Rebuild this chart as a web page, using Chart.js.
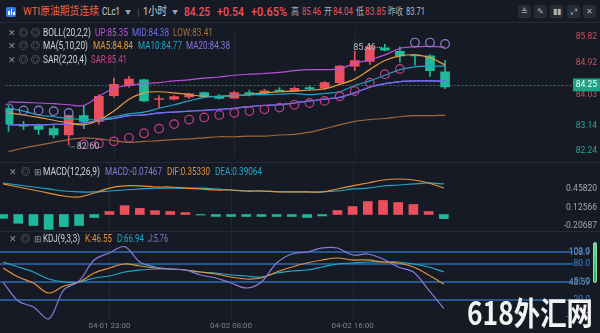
<!DOCTYPE html>
<html><head><meta charset="utf-8">
<script src="https://cdn.jsdelivr.net/npm/chart.js@4.4.1/dist/chart.umd.min.js"></script>
<style>
html,body{margin:0;padding:0;background:#161a25;}
body{width:600px;height:333px;position:relative;overflow:hidden;font-family:Roboto,"Noto Sans CJK SC",sans-serif;}
.t{position:absolute;white-space:nowrap;line-height:1;transform:translateY(-50%);transform-origin:left center;}
canvas{position:absolute;left:0;}
.hl{position:absolute;left:0;width:600px;height:1px;background:#262b37;}
.lg{font-size:10px;}
.ic{color:#8e939d;font-size:9px;}
.btn{position:absolute;top:5px;width:13px;height:13px;background:#262b36;border-radius:2px;color:#aeb3bd;font-size:8px;line-height:13px;text-align:center;}
</style></head><body>
<div class="hl" style="top:22px"></div>
<div class="hl" style="top:162px"></div>
<div class="hl" style="top:231px"></div>
<canvas id="cMain" width="600" height="140" style="top:23px"></canvas>
<canvas id="cMacd" width="600" height="68" style="top:163px"></canvas>
<canvas id="cKdj" width="600" height="101" style="top:232px"></canvas>

<!-- header -->
<div style="position:absolute;left:6px;top:7px;width:10px;height:10px;background:#2f7ae5;border-radius:2px;"></div>
<div style="position:absolute;left:8px;top:11px;width:1.5px;height:4px;background:#fff;"></div>
<div style="position:absolute;left:10.5px;top:9px;width:1.5px;height:6px;background:#fff;"></div>
<div style="position:absolute;left:13px;top:12px;width:1.5px;height:3px;background:#fff;"></div>
<div class="t" data-w="76" style="left:23px;top:12px;color:#ef633d;font-size:11.5px;">WTI原油期货连续</div>
<div class="t" data-w="18" style="left:102px;top:12px;color:#cfd3da;font-size:11.5px;">CLc1</div>
<div class="t" style="left:125px;top:12px;color:#9ca1ab;font-size:6px;">▼</div>
<div class="t" style="left:137px;top:12px;color:#4a4f5b;font-size:11px;">|</div>
<div class="t" data-w="24" style="left:143px;top:12px;color:#cfd3da;font-size:11.5px;">1小时</div>
<div class="t" style="left:172px;top:12px;color:#9ca1ab;font-size:6px;">▼</div>
<div class="t" data-w="26" style="left:184px;top:12px;color:#f0505a;font-size:12px;font-weight:500;">84.25</div>
<div class="t" data-w="27" style="left:217px;top:12px;color:#f0505a;font-size:12px;font-weight:500;">+0.54</div>
<div class="t" data-w="36" style="left:251px;top:12px;color:#f0505a;font-size:12px;font-weight:500;">+0.65%</div>
<div class="t" data-w="8" style="left:291px;top:12px;color:#a8adb6;font-size:10px;">高</div>
<div class="t" data-w="19" style="left:302px;top:12px;color:#e65560;font-size:10px;">85.46</div>
<div class="t" data-w="8" style="left:324px;top:12px;color:#a8adb6;font-size:10px;">开</div>
<div class="t" data-w="20" style="left:333px;top:12px;color:#e65560;font-size:10px;">84.04</div>
<div class="t" data-w="8" style="left:356px;top:12px;color:#a8adb6;font-size:10px;">低</div>
<div class="t" data-w="21" style="left:365px;top:12px;color:#e65560;font-size:10px;">83.85</div>
<div class="t" data-w="15" style="left:388px;top:12px;color:#a8adb6;font-size:10px;">昨收</div>
<div class="t" data-w="19" style="left:406px;top:12px;color:#b9bdc5;font-size:10px;">83.71</div>
<div class="btn" style="left:518px;">≙</div>
<div class="btn" style="left:534px;">✎</div>
<div class="btn" style="left:550px;">▮▮</div>
<div class="btn" style="left:567px;">⤢</div>
<div class="btn" style="left:583px;">✕</div>

<!-- main legends -->
<div class="t ic" style="left:8px;top:33px;">✕</div><div class="t ic" style="left:19px;top:33px;">◎</div><div class="t ic" style="left:31px;top:33px;">◎</div>
<div class="t lg" data-w="48" style="left:43px;top:33px;color:#cfd3da;">BOLL(20,2,2)</div>
<div class="t lg" data-w="33" style="left:95px;top:33px;color:#b952d8;">UP:85.35</div>
<div class="t lg" data-w="37" style="left:132px;top:33px;color:#6f6ef0;">MID:84.38</div>
<div class="t lg" data-w="40" style="left:173px;top:33px;color:#a3703f;">LOW:83.41</div>
<div class="t ic" style="left:8px;top:46px;">✕</div><div class="t ic" style="left:19px;top:46px;">◎</div><div class="t ic" style="left:31px;top:46px;">◎</div>
<div class="t lg" data-w="45" style="left:43px;top:46px;color:#cfd3da;">MA(5,10,20)</div>
<div class="t lg" data-w="40" style="left:93px;top:46px;color:#e39a3b;">MA5:84.84</div>
<div class="t lg" data-w="44" style="left:138px;top:46px;color:#22a5c6;">MA10:84.77</div>
<div class="t lg" data-w="44" style="left:186px;top:46px;color:#8a74e0;">MA20:84.38</div>
<div class="t ic" style="left:8px;top:60px;">✕</div><div class="t ic" style="left:19px;top:60px;">◎</div><div class="t ic" style="left:31px;top:60px;">◎</div>
<div class="t lg" data-w="44" style="left:43px;top:60px;color:#cfd3da;">SAR(2,20,4)</div>
<div class="t lg" data-w="36" style="left:91px;top:60px;color:#d0448e;">SAR:85.41</div>

<!-- macd legend -->
<div class="t ic" style="left:9px;top:172px;">✕</div><div class="t ic" style="left:21px;top:172px;">◎</div><div class="t ic" style="left:34px;top:172px;">⊞</div>
<div class="t lg" data-w="57" style="left:43px;top:172px;color:#cfd3da;">MACD(12,26,9)</div>
<div class="t lg" data-w="57" style="left:105px;top:172px;color:#8a7ad8;">MACD:-0.07467</div>
<div class="t lg" data-w="43" style="left:167px;top:172px;color:#e3923a;">DIF:0.35330</div>
<div class="t lg" data-w="47" style="left:215px;top:172px;color:#22a8c8;">DEA:0.39064</div>

<!-- kdj legend -->
<div class="t ic" style="left:9px;top:239px;">✕</div><div class="t ic" style="left:21px;top:239px;">◎</div><div class="t ic" style="left:34px;top:239px;">⊞</div>
<div class="t lg" data-w="37" style="left:43px;top:239px;color:#cfd3da;">KDJ(9,3,3)</div>
<div class="t lg" data-w="27" style="left:85px;top:239px;color:#e3923a;">K:46.55</div>
<div class="t lg" data-w="27" style="left:117px;top:239px;color:#22a8c8;">D:66.94</div>
<div class="t lg" data-w="20" style="left:148px;top:239px;color:#8a7ad8;">J:5.76</div>

<div style="position:absolute;left:593px;top:242px;width:4px;height:41px;background:linear-gradient(#5fe08a,#1fb84f);border:1px solid #9ad8b0;border-radius:2px;box-sizing:border-box;"></div>
<div class="t" data-w="126" style="left:467px;top:311px;color:#f2f2f2;font-size:32px;font-weight:700;font-family:'Noto Sans CJK SC',sans-serif;">618外汇网</div>

<script>
// ---------- data ----------
const gridIdx    = [7, 15, 23];
const gridLabels = ['04-01 23:00', '04-02 08:00', '04-02 16:00'];

const open  = [83.64,83.17,83.14,83.06,82.88,83.43,83.27,84.00,84.29,84.45,83.89,83.90,83.96,84.09,83.97,83.93,84.09,84.07,84.16,84.14,84.23,84.21,84.37,84.84,84.97,85.36,85.26,85.15,85.13,84.68];
const high  = [83.72,83.27,83.19,83.14,83.45,83.72,84.03,84.50,84.55,84.47,84.00,84.00,84.07,84.10,84.03,84.12,84.16,84.18,84.23,84.24,84.27,84.40,84.86,85.26,85.44,85.46,85.39,85.16,85.16,85.00];
const low   = [82.98,83.04,82.90,82.80,82.60,83.06,83.19,83.95,84.24,83.82,83.66,83.88,83.92,83.95,83.90,83.92,83.99,84.03,84.12,84.12,84.15,84.18,84.34,84.71,84.89,85.27,84.95,84.87,84.55,84.20];
const close = [83.19,83.13,83.04,82.88,83.43,83.27,83.98,84.32,84.47,83.85,83.91,83.97,84.05,83.96,83.92,84.09,84.05,84.14,84.12,84.21,84.20,84.37,84.84,85.00,85.39,85.29,85.13,85.13,84.71,84.25];

const bollUp  = [83.82,83.81,83.79,83.77,83.74,83.72,83.98,84.21,84.29,84.34,84.37,84.42,84.45,84.50,84.53,84.58,84.61,84.63,84.66,84.71,84.74,84.74,84.76,84.92,85.02,85.16,85.34,85.39,85.40,85.38];
const bollMid = [83.17,83.17,83.17,83.18,83.19,83.22,83.30,83.35,83.43,83.45,83.51,83.53,83.56,83.58,83.61,83.64,83.69,83.72,83.74,83.79,83.85,83.90,83.95,84.08,84.24,84.34,84.40,84.42,84.42,84.41];
const bollLow = [82.41,82.51,82.59,82.67,82.75,82.80,82.77,82.72,82.67,82.70,82.72,82.75,82.77,82.80,82.83,82.83,82.85,82.85,82.88,82.90,82.96,83.06,83.17,83.27,83.32,83.35,83.40,83.43,83.43,83.44];
const ma5     = [83.51,83.45,83.38,83.30,83.22,83.17,83.30,83.56,83.90,84.08,84.11,84.08,84.03,83.98,83.98,84.00,84.03,84.08,84.11,84.13,84.16,84.19,84.32,84.47,84.74,85.00,85.13,85.16,85.08,84.87];
const ma10    = [83.64,83.56,83.45,83.40,83.35,83.32,83.32,83.40,83.48,83.53,83.64,83.74,83.85,83.95,83.98,84.00,84.02,84.03,84.04,84.06,84.03,84.06,84.11,84.29,84.42,84.58,84.74,84.82,84.84,84.84];
const ma20    = [83.17,83.17,83.17,83.18,83.19,83.22,83.30,83.35,83.43,83.45,83.51,83.53,83.56,83.58,83.61,83.64,83.69,83.72,83.74,83.79,83.85,83.90,83.95,84.08,84.24,84.34,84.40,84.42,84.42,84.41];
const sar     = [83.64,83.58,83.58,83.56,83.51,82.62,82.64,82.70,82.80,82.93,83.06,83.19,83.32,83.38,83.45,83.51,83.56,83.61,83.66,83.74,83.79,83.85,83.98,84.13,84.37,84.61,84.76,85.51,85.51,85.47];

const macdHist = [-0.07,-0.16,-0.20,-0.27,-0.22,-0.20,-0.055,0.055,0.16,0.11,0.07,0.055,0.036,-0.01,-0.036,-0.036,-0.036,-0.036,-0.036,-0.036,-0.055,-0.027,0.073,0.145,0.236,0.255,0.218,0.182,0.055,-0.075];
const dif = [0.555,0.50,0.445,0.39,0.336,0.318,0.39,0.48,0.52,0.52,0.50,0.50,0.48,0.464,0.445,0.445,0.427,0.427,0.41,0.41,0.41,0.41,0.464,0.52,0.573,0.627,0.645,0.627,0.573,0.48];
const dea = [0.573,0.536,0.50,0.464,0.427,0.41,0.41,0.427,0.445,0.464,0.48,0.48,0.48,0.48,0.464,0.445,0.427,0.427,0.418,0.41,0.41,0.41,0.427,0.464,0.48,0.518,0.536,0.555,0.573,0.555];

const kK = [73.3,58.3,48.3,31.7,43.3,50,65,73.3,80,76.7,73.3,71.7,70,66.7,63.3,58.3,55,56.7,66.7,75,81.7,86.7,90,86.7,86.7,83.3,81.7,75,61.7,46.55];
const kD = [83.3,75,66.7,55,50,50,56.7,60,66.7,70,71.7,71.7,70,66.7,65,61.7,60,58.3,65,68.3,70,75,80,81.7,83.3,83.3,83.3,80,75,66.94];
const kJ = [50,18.3,8.3,-11.7,36.7,51.7,86.7,98.3,108.9,83.3,75,71.7,70,61.7,56.7,48.3,40,50,81.7,96.7,100,106.7,106.7,95,96.7,88.3,75,66.7,36.7,5.76];

const mainTicks  = [85.82, 84.92, 84.03, 83.14, 82.24];
const mainLabels = ['85.82','84.92','84.03','83.14','82.24'];
const prevClose  = 83.71;
const lastPrice  = 84.25;
const macdTicks  = [0.45820, 0.12566, -0.20687];
const macdLabels = ['0.45820','0.12566','-0.20687'];
const kdjLevels  = [100, 80, 50, 20];
const kdjLevelLabels = ['100.0','80.0','50.0','20.0'];
const kdjExtraLabels = ['108.9','48.59','-11.72'];

// ---------- fit header / legend texts ----------
document.querySelectorAll('[data-w]').forEach(el => {
  const w = el.getBoundingClientRect().width;
  const s = (+el.dataset.w) / w;
  el.style.transform = 'translateY(-50%) scaleX(' + s.toFixed(3) + ')';
});

// ---------- styling ----------
const UP = '#eb4f5c', DN = '#1fb89a';
const idx = open.map((_, i) => i);
const pts = arr => arr.map((v, i) => ({x: i, y: v}));
const candleCol = idx.map(i => close[i] >= open[i] ? UP : DN);
const X = {type: 'linear', min: -0.2, max: 37.5, display: false, offset: false};
const AXIS_FONT = '8.5px Roboto';

const vgrid = {
  id: 'vgrid',
  beforeDatasetsDraw(chart) {
    const {ctx, chartArea: a, scales: {x}} = chart;
    ctx.save(); ctx.strokeStyle = '#222733'; ctx.lineWidth = 1;
    gridIdx.forEach(g => {
      const px = Math.round(x.getPixelForValue(g)) + 0.5;
      ctx.beginPath(); ctx.moveTo(px, a.top); ctx.lineTo(px, a.bottom); ctx.stroke();
    });
    ctx.restore();
  }
};

function line(data, color, w, order) {
  return {type: 'line', data: pts(data), borderColor: color, borderWidth: w || 1.2, pointRadius: 0,
          tension: 0.35, fill: false, order: order || 1};
}
const baseOpts = (ymin, ymax, bottomPad) => ({
  responsive: false, animation: false, events: [],
  layout: {padding: {left: 0, right: 27, top: 0, bottom: bottomPad || 0}},
  plugins: {legend: {display: false}, tooltip: {enabled: false}},
  scales: {x: X, y: {min: ymin, max: ymax, display: false}}
});

// ---------- main ----------
const mainPlugin = {
  id: 'mainAxis',
  beforeDatasetsDraw(chart) {
    const {ctx, chartArea: a, scales: {y}} = chart;
    const py = Math.round(y.getPixelForValue(lastPrice)) - 1.5;
    ctx.save(); ctx.strokeStyle = '#3f6a6a'; ctx.setLineDash([2, 2]); ctx.lineWidth = 1;
    ctx.beginPath(); ctx.moveTo(a.left, py); ctx.lineTo(a.right, py); ctx.stroke(); ctx.restore();
  },
  afterDraw(chart) {
    const {ctx, chartArea: a, scales: {x, y}} = chart;
    ctx.save(); ctx.font = AXIS_FONT; ctx.textAlign = 'right'; ctx.textBaseline = 'middle';
    mainTicks.forEach((v, i) => {
      let py = y.getPixelForValue(v);
      py = Math.max(a.top + 8, Math.min(a.bottom - 7, py));
      ctx.fillStyle = v > prevClose ? '#c9505a' : '#27a88e';
      ctx.fillText(mainLabels[i], 597, py);
    });
    const pp = y.getPixelForValue(lastPrice) - 2;
    ctx.fillStyle = '#1aa384'; ctx.fillRect(573, pp - 6.5, 27, 13);
    ctx.fillStyle = '#ffffff'; ctx.fillText(lastPrice.toFixed(2), 597, pp);
    let hi = 0, lo = 0;
    high.forEach((v, i) => { if (v > high[hi]) hi = i; });
    low.forEach((v, i) => { if (v < low[lo]) lo = i; });
    ctx.fillStyle = '#b8bcc4'; ctx.strokeStyle = '#b8bcc4'; ctx.setLineDash([1, 1]);
    ctx.font = '9px Roboto';
    let hx = x.getPixelForValue(hi), hy = y.getPixelForValue(high[hi]) + 3;
    ctx.beginPath(); ctx.moveTo(hx - 8, hy); ctx.lineTo(hx - 2, hy); ctx.stroke();
    ctx.textAlign = 'right'; ctx.fillText(high[hi].toFixed(2), hx - 9, hy);
    let lx = x.getPixelForValue(lo), ly = y.getPixelForValue(low[lo]) + 2;
    ctx.beginPath(); ctx.moveTo(lx + 1, ly); ctx.lineTo(lx + 7, ly); ctx.stroke();
    ctx.textAlign = 'left'; ctx.fillText(low[lo].toFixed(2), lx + 8, ly);
    ctx.restore();
  }
};

new Chart(document.getElementById('cMain'), {
  type: 'bar',
  data: {datasets: [
    {type: 'bar', data: idx.map(i => ({x: i, y: [low[i], high[i]]})), backgroundColor: candleCol,
     barThickness: 1, grouped: false, order: 6},
    {type: 'bar', data: idx.map(i => ({x: i, y: [open[i], close[i]]})), backgroundColor: candleCol,
     barThickness: 9, grouped: false, minBarLength: 1, order: 5},
    line(bollLow, '#a0673a', 1.2, 2),
    line(bollUp, '#b552d6', 1.2, 2),
    line(bollMid, '#6f6ef0', 1.2, 2),
    line(ma20, '#7d6fec', 1.2, 2),
    line(ma10, '#1fa3c4', 1.2, 1),
    line(ma5, '#e39a3b', 1.2, 1),
    {type: 'line', data: pts(sar), showLine: false, pointRadius: 4.3, pointBorderWidth: 1.2,
     pointBackgroundColor: 'rgba(0,0,0,0)',
     pointBorderColor: idx.map(i => sar[i] > close[i] ? '#8c82d2' : '#c63f8d'), order: 0}
  ]},
  options: baseOpts(82.24, 85.91),
  plugins: [vgrid, mainPlugin]
});

// ---------- MACD ----------
const macdPlugin = {
  id: 'macdAxis',
  afterDraw(chart) {
    const {ctx, scales: {y}} = chart;
    ctx.save(); ctx.font = AXIS_FONT; ctx.textAlign = 'right'; ctx.textBaseline = 'middle'; ctx.fillStyle = '#a3a8b1';
    macdTicks.forEach((v, i) => ctx.fillText(macdLabels[i], 597, y.getPixelForValue(v)));
    ctx.restore();
  }
};
new Chart(document.getElementById('cMacd'), {
  type: 'bar',
  data: {datasets: [
    {type: 'bar', data: pts(macdHist), backgroundColor: macdHist.map(v => v >= 0 ? UP : DN),
     barThickness: 9, grouped: false, order: 3},
    line(dea, '#22a8c8', 1.2, 2),
    line(dif, '#e3923a', 1.2, 1)
  ]},
  options: baseOpts(-0.30, 0.936),
  plugins: [vgrid, macdPlugin]
});

// ---------- KDJ ----------
const kdjPlugin = {
  id: 'kdjAxis',
  beforeDatasetsDraw(chart) {
    const {ctx, chartArea: a, scales: {y}} = chart;
    ctx.save(); ctx.strokeStyle = '#2c6db6'; ctx.lineWidth = 1.5;
    kdjLevels.forEach(v => {
      const py = Math.round(y.getPixelForValue(v));
      ctx.beginPath(); ctx.moveTo(a.left, py); ctx.lineTo(a.right, py); ctx.stroke();
    });
    ctx.restore();
  },
  afterDraw(chart) {
    const {ctx, chartArea: a, scales: {x, y}} = chart;
    ctx.save(); ctx.font = AXIS_FONT; ctx.textBaseline = 'middle'; ctx.textAlign = 'right';
    ctx.fillStyle = '#7d8ea8';
    ctx.fillText(kdjExtraLabels[0], 590, y.getPixelForValue(kdjLevels[0]) + 1);
    ctx.fillText(kdjExtraLabels[1], 590, y.getPixelForValue(kdjLevels[2]) + 1);
    ctx.fillText(kdjExtraLabels[2], 590, a.bottom - 3);
    ctx.fillStyle = '#3b84d6';
    kdjLevels.forEach((v, i) => ctx.fillText(kdjLevelLabels[i], 590, y.getPixelForValue(v)));
    ctx.textAlign = 'center'; ctx.fillStyle = '#7d828c'; ctx.font = '8px Roboto';
    gridIdx.forEach((g, i) => ctx.fillText(gridLabels[i], x.getPixelForValue(g), a.bottom + 6));
    ctx.restore();
  }
};
new Chart(document.getElementById('cKdj'), {
  type: 'line',
  data: {datasets: [
    line(kD, '#22a8c8', 1.2, 3),
    line(kK, '#e3923a', 1.2, 2),
    line(kJ, '#8a7ad8', 1.2, 1)
  ]},
  options: baseOpts(-13.3, 133.3, 13),
  plugins: [vgrid, kdjPlugin]
});
</script>
</body></html>
